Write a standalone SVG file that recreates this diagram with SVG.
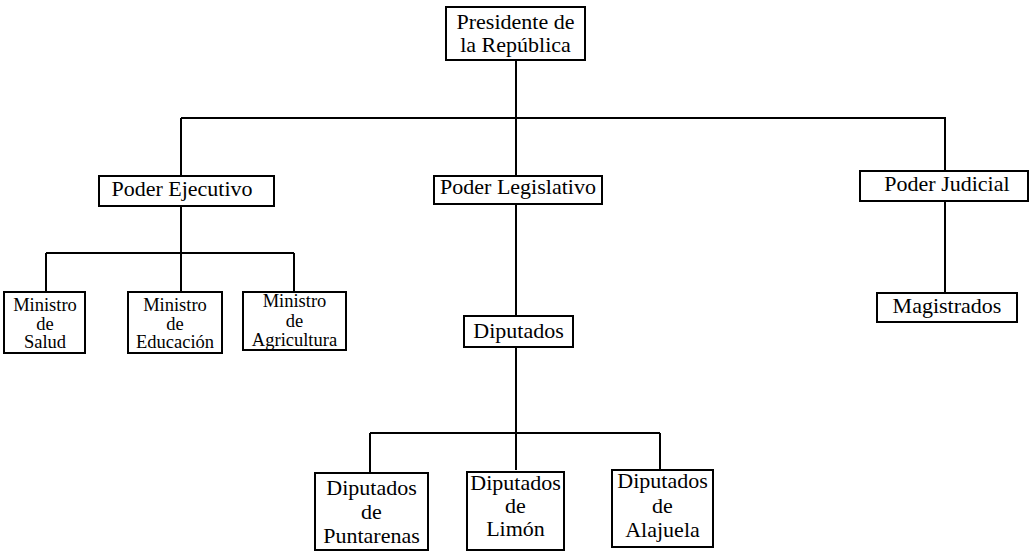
<svg xmlns="http://www.w3.org/2000/svg" width="1033" height="552" viewBox="0 0 1033 552">
<style>
.box{fill:#fff;stroke:#000;stroke-width:2}
.ln{fill:none;stroke:#000;stroke-width:2}
text{font-family:"Liberation Serif","Times New Roman",serif;fill:#000;text-anchor:middle}
.l{font-size:22px}
.m{font-size:18.5px}
</style>
<rect width="1033" height="552" fill="#fff"/>
<g id="connectors">
<path class="ln" d="M516 60V118M181 118H945M181 118V292M516 118V470M945 117V293"/>
<path class="ln" d="M46 253H294M46 253V292M294 253V292"/>
<path class="ln" d="M370 433H660M370 433V473M660 433V470"/>
</g>
<g id="presidente"><rect class="box" x="446" y="7" width="139" height="53"/><text class="l" x="515.5" y="29">Presidente de</text><text class="l" x="515.5" y="52">la República</text></g>
<g id="ejecutivo"><rect class="box" x="99" y="176" width="175" height="30"/><text class="l" x="182" y="196">Poder Ejecutivo</text></g>
<g id="legislativo"><rect class="box" x="434" y="176" width="168" height="28"/><text class="l" x="518" y="194">Poder Legislativo</text></g>
<g id="judicial"><rect class="box" x="860" y="171" width="168" height="30"/><text class="l" x="947" y="191">Poder Judicial</text></g>
<g id="salud"><rect class="box" x="4" y="292" width="81" height="61"/><text class="m" x="45" y="311">Ministro</text><text class="m" x="45" y="330">de</text><text class="m" x="45" y="348">Salud</text></g>
<g id="educacion"><rect class="box" x="128" y="292" width="94" height="61"/><text class="m" x="175" y="311">Ministro</text><text class="m" x="175" y="330">de</text><text class="m" x="175" y="348">Educación</text></g>
<g id="agricultura"><rect class="box" x="243" y="292" width="103" height="58"/><text class="m" x="294.5" y="307">Ministro</text><text class="m" x="294.5" y="327">de</text><text class="m" x="294.5" y="346">Agricultura</text></g>
<g id="diputados"><rect class="box" x="464" y="316" width="109" height="31"/><text class="l" x="518.5" y="338">Diputados</text></g>
<g id="magistrados"><rect class="box" x="877" y="293" width="140" height="29"/><text class="l" x="947" y="313">Magistrados</text></g>
<g id="puntarenas"><rect class="box" x="315" y="473" width="113" height="77"/><text class="l" x="371.5" y="495">Diputados</text><text class="l" x="371.5" y="519">de</text><text class="l" x="371.5" y="543">Puntarenas</text></g>
<g id="limon"><rect class="box" x="467" y="472" width="97" height="78"/><text class="l" x="515.5" y="490">Diputados</text><text class="l" x="515.5" y="513">de</text><text class="l" x="515.5" y="536">Limón</text></g>
<g id="alajuela"><rect class="box" x="612" y="470" width="101" height="77"/><text class="l" x="662.5" y="488">Diputados</text><text class="l" x="662.5" y="513">de</text><text class="l" x="662.5" y="537">Alajuela</text></g>
</svg>
